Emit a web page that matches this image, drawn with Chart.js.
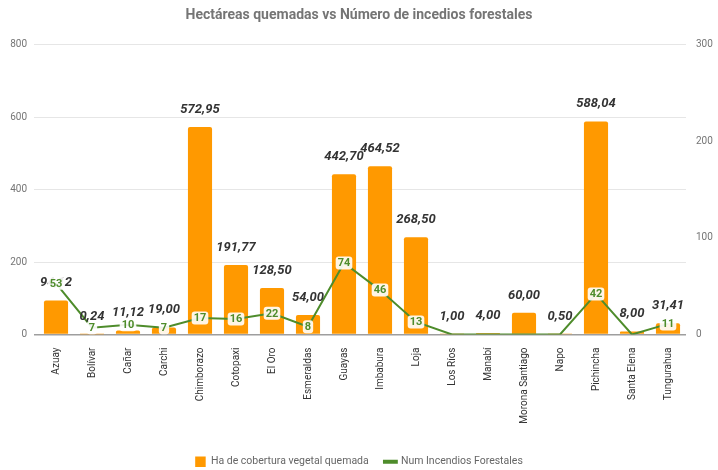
<!DOCTYPE html>
<html>
<head>
<meta charset="utf-8">
<script src="https://cdn.jsdelivr.net/npm/chart.js@4.4.1/dist/chart.umd.min.js"></script>
<style>
  html, body { margin: 0; padding: 0; background: #fff; }
  #wrap { width: 718px; height: 470px; position: relative; }
</style>
</head>
<body>
<div id="wrap"><canvas id="myChart"></canvas></div>
<script>
// Data
const provincias = ['Azuay', 'Bolívar', 'Cañar', 'Carchi', 'Chimborazo', 'Cotopaxi', 'El Oro', 'Esmeraldas',
  'Guayas', 'Imbabura', 'Loja', 'Los Ríos', 'Manabí', 'Morona Santiago', 'Napo', 'Pichincha', 'Santa Elena', 'Tungurahua'];
const hectareas = [94.12, 0.24, 11.12, 19.00, 572.95, 191.77, 128.50, 54.00,
  442.70, 464.52, 268.50, 1.00, 4.00, 60.00, 0.50, 588.04, 8.00, 31.41];
const incendios = [53, 7, 10, 7, 17, 16, 22, 8, 74, 46, 13, 0, 0, 0, 0, 42, 0, 11];
const leftTicks = [0, 200, 400, 600, 800];
const rightTicks = [0, 100, 200, 300];

const orange = '#ff9900';
const green = '#4e8c2b';

// value labels for bars and line points
const labelsPlugin = {
  id: 'valueLabels',
  afterDatasetsDraw(chart) {
    const ctx = chart.ctx;
    ctx.save();
    const bars = chart.getDatasetMeta(0).data;
    ctx.font = 'italic bold 13px Roboto';
    ctx.fillStyle = '#333';
    ctx.textAlign = 'center';
    ctx.textBaseline = 'bottom';
    bars.forEach((b, i) => {
      const txt = hectareas[i].toFixed(2).replace('.', ',');
      ctx.fillText(txt, b.x, b.y - 11);
    });
    const pts = chart.getDatasetMeta(1).data;
    ctx.font = 'bold 11px Roboto';
    ctx.textBaseline = 'middle';
    pts.forEach((p, i) => {
      const v = incendios[i];
      if (!v) return;
      const txt = String(v);
      const w = ctx.measureText(txt).width + 4;
      const h = 13;
      ctx.fillStyle = 'rgba(255,255,255,0.9)';
      ctx.beginPath();
      ctx.roundRect(p.x - w / 2, p.y - h / 2, w, h, 3);
      ctx.fill();
      ctx.fillStyle = green;
      ctx.fillText(txt, p.x, p.y + 0.5);
    });
    ctx.restore();
  }
};

const ctx = document.getElementById('myChart');
const myChart = new Chart(ctx, {
  data: {
    labels: provincias,
    datasets: [{
      type: 'bar',
      label: 'Ha de cobertura vegetal quemada',
      data: hectareas,
      backgroundColor: orange,
      borderRadius: 2,
      categoryPercentage: 1,
      barPercentage: 0.67,
      yAxisID: 'y',
      order: 2
    }, {
      type: 'line',
      label: 'Num Incendios Forestales',
      data: incendios,
      borderColor: green,
      backgroundColor: green,
      borderWidth: 2,
      pointRadius: 0,
      tension: 0,
      yAxisID: 'y1',
      order: 1
    }]
  },
  options: {
    responsive: true,
    maintainAspectRatio: false,
    animation: false,
    layout: { padding: { left: 0, right: 0, top: 0, bottom: -7 } },
    plugins: {
      title: {
        display: true,
        text: 'Hectáreas quemadas vs Número de incedios forestales',
        color: '#757575',
        font: { family: 'Roboto', size: 14, weight: 'bold' },
        padding: { top: 7, bottom: 21 }
      },
      legend: {
        position: 'bottom',
        labels: {
          color: '#666',
          font: { family: 'Roboto', size: 10.5 },
          boxWidth: 12,
          boxHeight: 12,
          padding: 6,
          generateLabels(chart) {
            return chart.data.datasets.map((ds, i) => ({
              // trailing spaces widen the gap between the two legend items
              text: ds.type === 'bar' ? ds.label + '    ' : ds.label,
              fillStyle: ds.type === 'bar' ? orange : green,
              strokeStyle: ds.type === 'bar' ? orange : green,
              lineWidth: ds.type === 'bar' ? 0 : 4,
              pointStyle: ds.type === 'bar' ? 'rect' : 'line',
              datasetIndex: i,
              fontColor: '#666'
            }));
          },
          usePointStyle: true
        }
      },
      tooltip: { enabled: false }
    },
    scales: {
      x: {
        grid: { display: false },
        border: { display: false },
        ticks: {
          color: '#333',
          font: { family: 'Roboto', size: 10 },
          minRotation: 90,
          maxRotation: 90,
          autoSkip: false,
          padding: 5
        },
        afterFit(scale) { scale.height = 116; }
      },
      y: {
        position: 'left',
        min: 0,
        max: 800,
        afterBuildTicks(scale) { scale.ticks = leftTicks.map(v => ({ value: v })); },
        grid: {
          color: c => c.tick && c.tick.value === 0 ? '#9e9e9e' : '#e6e6e6',
          lineWidth: c => c.tick && c.tick.value === 0 ? 1.5 : 1,
          tickLength: 4
        },
        border: { display: false },
        ticks: { color: '#757575', font: { family: 'Roboto', size: 10 }, padding: 7 },
        afterFit(scale) { scale.width = 38; }
      },
      y1: {
        position: 'right',
        min: 0,
        max: 300,
        afterBuildTicks(scale) { scale.ticks = rightTicks.map(v => ({ value: v })); },
        grid: { display: false },
        border: { display: false },
        ticks: { color: '#757575', font: { family: 'Roboto', size: 10 }, padding: 2 },
        afterFit(scale) { scale.width = 32; }
      }
    }
  },
  plugins: [labelsPlugin]
});
</script>
</body>
</html>
